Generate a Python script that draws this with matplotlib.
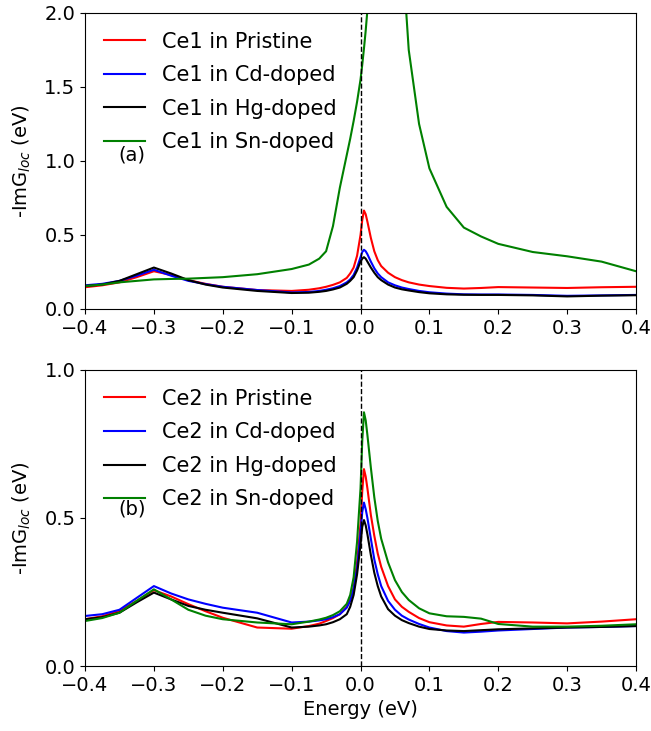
import matplotlib
matplotlib.use('Agg')
import matplotlib.pyplot as plt

font = {'size': 14}
plt.rc('font', **font)

# energy grid (eV), shared by all curves
energy = [-0.4, -0.375, -0.35, -0.325, -0.3, -0.275, -0.25, -0.225, -0.2, -0.15,
          -0.1, -0.075, -0.06, -0.05, -0.04, -0.03, -0.02, -0.015, -0.01, -0.005,
          0.0, 0.0025, 0.005, 0.0075, 0.01, 0.015, 0.02, 0.025, 0.03, 0.04,
          0.05, 0.06, 0.07, 0.085, 0.1, 0.125, 0.15, 0.175, 0.2, 0.25,
          0.3, 0.35, 0.4]

# panel (a): Ce1
ce1_pristine = [0.147, 0.16, 0.18, 0.215, 0.255, 0.23, 0.195, 0.17, 0.15, 0.128,
                0.122, 0.13, 0.14, 0.15, 0.163, 0.18, 0.21, 0.24, 0.28, 0.36,
                0.50, 0.60, 0.665, 0.64, 0.59, 0.48, 0.39, 0.33, 0.29, 0.245,
                0.215, 0.195, 0.18, 0.165, 0.155, 0.143, 0.138, 0.142, 0.148, 0.145,
                0.142, 0.147, 0.15]
ce1_cd = [0.16, 0.17, 0.19, 0.225, 0.265, 0.225, 0.19, 0.168, 0.15, 0.128,
          0.112, 0.115, 0.122, 0.13, 0.14, 0.155, 0.18, 0.2, 0.23, 0.28,
          0.35, 0.385, 0.40, 0.39, 0.37, 0.32, 0.275, 0.24, 0.215, 0.18,
          0.16, 0.145, 0.135, 0.122, 0.113, 0.104, 0.099, 0.098, 0.098, 0.095,
          0.089, 0.092, 0.095]
ce1_hg = [0.155, 0.165, 0.19, 0.235, 0.28, 0.24, 0.195, 0.165, 0.145, 0.122,
          0.108, 0.11, 0.116, 0.122, 0.132, 0.145, 0.17, 0.19, 0.215, 0.26,
          0.32, 0.34, 0.35, 0.34, 0.32, 0.28, 0.245, 0.215, 0.195, 0.165,
          0.145, 0.133, 0.125, 0.114, 0.106, 0.099, 0.096, 0.095, 0.095, 0.092,
          0.085, 0.09, 0.093]
ce1_sn = [0.155, 0.165, 0.18, 0.19, 0.2, 0.203, 0.205, 0.21, 0.215, 0.235,
          0.27, 0.3, 0.34, 0.39, 0.56, 0.82, 1.04, 1.15, 1.27, 1.4,
          1.55, 1.65, 1.76, 1.88, 2.02, 2.35, 2.7, 3.0, 3.2, 3.3,
          3.0, 2.45, 1.75, 1.25, 0.95, 0.69, 0.55, 0.49, 0.44, 0.385,
          0.356, 0.32, 0.255]

# panel (b): Ce2
ce2_pristine = [0.158, 0.168, 0.186, 0.22, 0.256, 0.235, 0.209, 0.185, 0.163, 0.13,
                0.126, 0.135, 0.143, 0.152, 0.162, 0.175, 0.2, 0.225, 0.265, 0.35,
                0.48, 0.59, 0.665, 0.64, 0.60, 0.51, 0.44, 0.38, 0.335, 0.27,
                0.225, 0.2, 0.183, 0.162, 0.148, 0.137, 0.133, 0.142, 0.149, 0.147,
                0.144, 0.15, 0.158]
ce2_cd = [0.169, 0.175, 0.19, 0.23, 0.27, 0.245, 0.225, 0.21, 0.197, 0.18,
          0.147, 0.15, 0.154, 0.158, 0.165, 0.175, 0.197, 0.22, 0.26, 0.33,
          0.45, 0.52, 0.552, 0.53, 0.50, 0.43, 0.36, 0.31, 0.27, 0.22,
          0.19, 0.17, 0.157, 0.142, 0.13, 0.118, 0.113, 0.116, 0.12, 0.125,
          0.13, 0.132, 0.135]
ce2_hg = [0.158, 0.165, 0.18, 0.215, 0.248, 0.225, 0.203, 0.19, 0.18, 0.161,
          0.13, 0.133, 0.137, 0.141, 0.148, 0.158, 0.175, 0.2, 0.24, 0.31,
          0.41, 0.47, 0.493, 0.475, 0.445, 0.375, 0.315, 0.27, 0.235, 0.192,
          0.17, 0.155, 0.145, 0.133, 0.125, 0.12, 0.118, 0.121, 0.124, 0.127,
          0.13, 0.132, 0.135]
ce2_sn = [0.152, 0.162, 0.18, 0.22, 0.259, 0.225, 0.19, 0.17, 0.158, 0.147,
          0.141, 0.15, 0.157, 0.163, 0.172, 0.185, 0.21, 0.24, 0.30, 0.42,
          0.60, 0.76, 0.857, 0.83, 0.78, 0.67, 0.57, 0.49, 0.43, 0.35,
          0.29, 0.25, 0.223, 0.195, 0.178, 0.168, 0.166, 0.16, 0.142, 0.133,
          0.133, 0.136, 0.141]

colors = ['red', 'blue', 'black', 'green']
cases = ['Pristine', 'Cd-doped', 'Hg-doped', 'Sn-doped']

panels = [
    ('Ce1', [ce1_pristine, ce1_cd, ce1_hg, ce1_sn], 2.0, [0.0, 0.5, 1.0, 1.5, 2.0], '(a)', 1.04),
    ('Ce2', [ce2_pristine, ce2_cd, ce2_hg, ce2_sn], 1.0, [0.0, 0.5, 1.0], '(b)', 0.53),
]

fig = plt.figure(figsize=(6.51, 7.31), dpi=100)
ax_top = fig.add_axes([0.1306, 0.5773, 0.8464, 0.405])
ax_bot = fig.add_axes([0.1306, 0.0889, 0.8464, 0.405])

for ax, (site, series, ymax, yticks, tag, tag_y) in zip([ax_top, ax_bot], panels):
    for vals, c, case in zip(series, colors, cases):
        ax.plot(energy, vals, color=c, lw=1.5, label=f'{site} in {case}')
    ax.axvline(0.0, color='black', ls='--', lw=1)
    ax.set_xlim(-0.4, 0.4)
    ax.set_ylim(0, ymax)
    ax.set_yticks(yticks)
    ax.set_xticks([-0.4, -0.3, -0.2, -0.1, 0.0, 0.1, 0.2, 0.3, 0.4])
    ax.set_ylabel('-ImG$_{loc}$ (eV)', labelpad=8)
    ax.text(-0.352, tag_y, tag, va='center', ha='left')
    ax.legend(loc='upper left', frameon=False, fontsize=15, labelspacing=0.65)

ax_bot.set_xlabel('Energy (eV)')

fig.savefig('out.png', dpi=100)
